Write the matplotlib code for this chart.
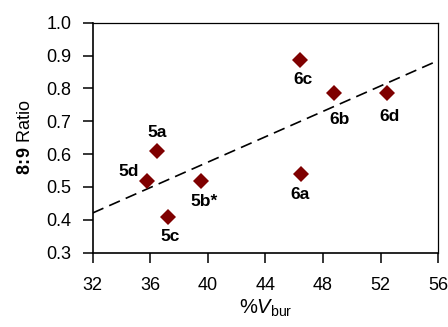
import numpy as np
import matplotlib
matplotlib.use('Agg')
import matplotlib.pyplot as plt

plt.rcParams['font.family'] = 'Liberation Sans'
plt.rcParams['mathtext.fontset'] = 'custom'
plt.rcParams['mathtext.rm'] = 'Liberation Sans'
plt.rcParams['mathtext.it'] = 'Liberation Sans:italic'
plt.rcParams['mathtext.bf'] = 'Liberation Sans:bold'

# data
labels = ['5a', '5d', '5c', '5b*', '6c', '6b', '6d', '6a']
vbur = [36.44, 35.75, 37.25, 39.52, 46.42, 48.76, 52.46, 46.44]
ratio = [0.611, 0.517, 0.408, 0.517, 0.887, 0.785, 0.785, 0.540]
# label offsets in points (dx, dy)
offsets = [(0, 13), (-13, 7), (1, -14), (2.5, -14.5), (2, -14), (4, -19), (2, -17), (-0.5, -15)]

fig = plt.figure(figsize=(4.48, 3.27), dpi=100)
ax = fig.add_axes([0.207, 0.2272, 0.771, 0.7034])

# linear fit
k, b = np.polyfit(vbur, ratio, 1)
xx = np.array([32, 56])
ax.plot(xx, k * xx + b, color='black', lw=1.2, dashes=(7, 3.8))

ax.plot(vbur, ratio, 'D', color='#7f0000', markersize=8.5, markeredgewidth=0)

for lab, x, y, off in zip(labels, vbur, ratio, offsets):
    ax.annotate(lab, (x, y), xytext=off, textcoords='offset points',
                ha='center', va='center', fontsize=12.5, fontweight='bold')

ax.set_xlim(32, 56)
ax.set_ylim(0.3, 1.0)
ax.set_xticks([32, 36, 40, 44, 48, 52, 56])
ax.set_yticks([0.3, 0.4, 0.5, 0.6, 0.7, 0.8, 0.9, 1.0])
ax.set_yticklabels(['0.3', '0.4', '0.5', '0.6', '0.7', '0.8', '0.9', '1.0'])
ax.tick_params(direction='out', length=7.5, width=1.1, labelsize=13,
               top=False, right=False)
ax.tick_params(axis='x', pad=10)
ax.tick_params(axis='y', pad=8)

for s in ['left', 'bottom']:
    ax.spines[s].set_linewidth(1.2)
for s in ['top', 'right']:
    ax.spines[s].set_linewidth(0.9)

ax.set_xlabel(r'%$\mathit{V}_{\mathrm{bur}}$', fontsize=14.5, labelpad=3)
ax.set_ylabel(r'$\mathbf{8\!:\!9}$ Ratio', fontsize=13, labelpad=9)

fig.savefig('out.png', dpi=100)
